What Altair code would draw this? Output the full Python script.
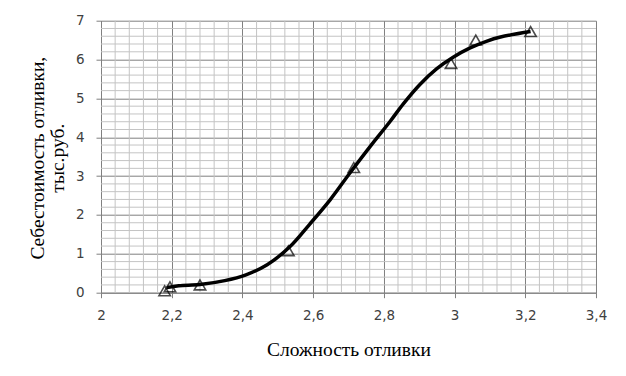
import altair as alt
import pandas as pd

# Measured points (triangles)
pt_x = [2.18, 2.195, 2.28, 2.53, 2.715, 2.99, 3.06, 3.215]
pt_y = [0.05, 0.15, 0.20, 1.08, 3.22, 5.90, 6.50, 6.72]

# Smoothed trend curve
curve_x = [2.186, 2.22, 2.28, 2.35, 2.41, 2.47, 2.534, 2.59, 2.648, 2.704,
           2.761, 2.817, 2.855, 2.902, 2.949, 2.996, 3.044, 3.09, 3.13, 3.215]
curve_y = [0.13, 0.18, 0.21, 0.31, 0.46, 0.72, 1.18, 1.76, 2.39, 3.08,
           3.76, 4.40, 4.86, 5.36, 5.76, 6.06, 6.30, 6.47, 6.58, 6.72]

x_ticks = [2, 2.2, 2.4, 2.6, 2.8, 3, 3.2, 3.4]
y_ticks = [0, 1, 2, 3, 4, 5, 6, 7]

x_title = "Сложность отливки"
y_title = ["Себестоимость отливки,", "тыс.руб."]

# minor grid positions (style only)
x_minor = [round(2 + i * 0.04, 2) for i in range(36) if i % 5]
y_minor = [round(i * 0.2, 1) for i in range(36) if i % 5]

pts = pd.DataFrame({"x": pt_x, "y": pt_y})
curve = pd.DataFrame({"x": curve_x, "y": curve_y})
vgrid = pd.DataFrame({"x": x_minor})
hgrid = pd.DataFrame({"y": y_minor})

xs = alt.Scale(domain=[2, 3.4], nice=False, zero=False)
ys = alt.Scale(domain=[0, 7], nice=False, zero=False)

GRID_MAJOR = "#808080"
GRID_MINOR = "#c4c4c4"

x_axis = alt.Axis(
    values=x_ticks, format=".1~f", labelExpr="replace(datum.label, '.', ',')",
    grid=True, gridColor=GRID_MAJOR, domainColor=GRID_MAJOR, tickColor=GRID_MAJOR,
    tickSize=5, labelFont="DejaVu Sans", labelFontSize=13.5, labelColor="#404040",
    labelPadding=11, labelFlush=False, labelOverlap=False,
    title=x_title, titleFont="Liberation Serif", titleFontSize=19.5,
    titleFontWeight="normal", titleColor="black", titleX=247.5, titleY=63,
    titleBaseline="alphabetic", titleAlign="center",
)
y_axis = alt.Axis(
    values=y_ticks, format="d",
    grid=True, gridColor=GRID_MAJOR, domainColor=GRID_MAJOR, tickColor=GRID_MAJOR,
    tickSize=5, labelFont="DejaVu Sans", labelFontSize=13.5, labelColor="#404040",
    labelPadding=12, labelFlush=False, labelOverlap=False,
    title=y_title, titleFont="Liberation Serif", titleFontSize=19.5,
    titleFontWeight="normal", titleColor="black", titleAngle=270,
    titleX=-58, titleY=137, titleBaseline="alphabetic", titleAlign="center",
    titleLineHeight=21,
)

X = alt.X("x:Q", scale=xs, axis=x_axis)
Y = alt.Y("y:Q", scale=ys, axis=y_axis)

minor_v = alt.Chart(vgrid).mark_rule(color=GRID_MINOR, strokeWidth=1).encode(x=X)
minor_h = alt.Chart(hgrid).mark_rule(color=GRID_MINOR, strokeWidth=1).encode(y=Y)

line = alt.Chart(curve).mark_line(
    color="black", strokeWidth=3.5, interpolate="catmull-rom"
).encode(x=X, y=Y)

points = alt.Chart(pts).mark_point(
    shape="triangle-up", filled=False, size=130, stroke="black", strokeWidth=1.6
).encode(x=X, y=Y)

chart = alt.layer(minor_v, minor_h, line, points).properties(
    width=495, height=272,
    autosize=alt.AutoSizeParams(type="none"),
    padding={"left": 93, "top": 12.7, "right": 20, "bottom": 70},
).configure_view(stroke=None)

chart.save("out.html", embed_options={"renderer": "svg", "actions": False})
